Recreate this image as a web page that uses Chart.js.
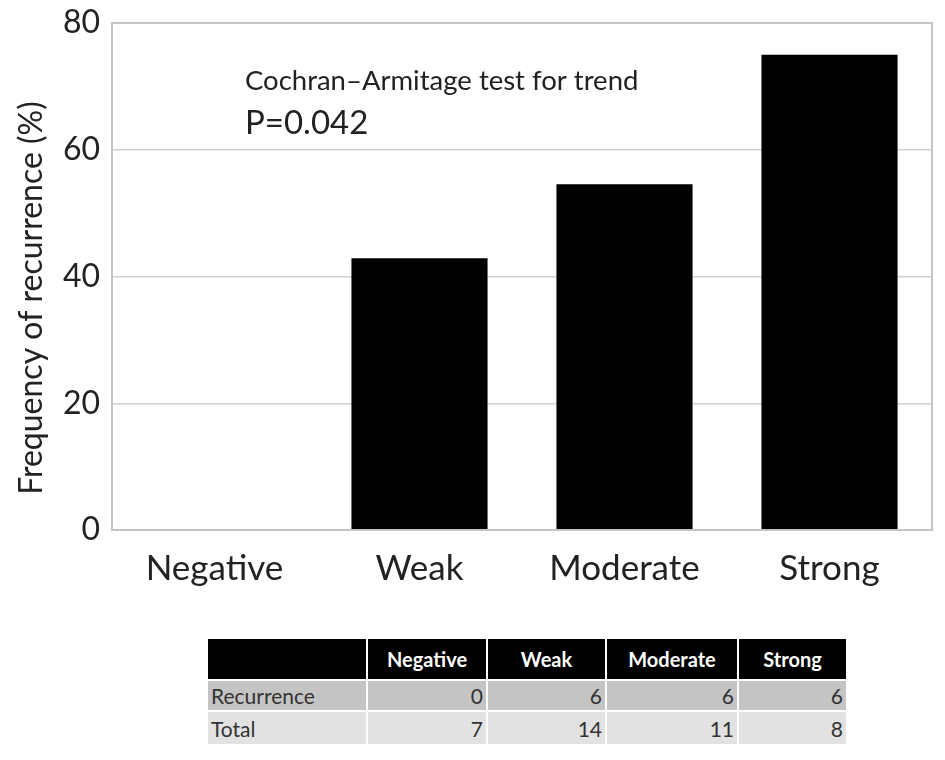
<!DOCTYPE html>
<html>
<head>
<meta charset="utf-8">
<script src="https://cdn.jsdelivr.net/npm/chart.js@4.4.0/dist/chart.umd.min.js"></script>
<style>
    body { margin: 0; background: #fff; font-family: Lato, "Open Sans", sans-serif; }
    #wrap { position: relative; width: 945px; height: 760px; }
    #chartBox { position: absolute; left: 0; top: 0; width: 945px; height: 610px; }
    table.counts {
        position: absolute; left: 206px; top: 637px; width: 640px;
        table-layout: fixed; border-collapse: collapse; font-size: 21px; color: #333;
    }
    table.counts td, table.counts th { border: 2px solid #fff; padding: 0 3px; overflow: hidden; white-space: nowrap; }
    table.counts th { background: #000; color: #fff; height: 40px; font-weight: bold; text-align: center; font-size: 20px; }
    table.counts tr.rec td { background: #c4c4c4; height: 29px; }
    table.counts tr.tot td { background: #e2e2e2; height: 32px; }
    table.counts td.num { text-align: right; }
</style>
</head>
<body>
<div id="wrap">
    <div id="chartBox"><canvas id="chart"></canvas></div>
    <table class="counts" id="counts"></table>
</div>
<script>
// Data
const categories = ['Negative', 'Weak', 'Moderate', 'Strong'];
const recurrence = [0, 6, 6, 6];
const totals = [7, 14, 11, 8];
const frequency = [0, 42.86, 54.55, 75.0];
const yTicks = [0, 20, 40, 60, 80];

// Table below the chart
const table = document.getElementById('counts');
const colWidths = [160, 120, 119, 132, 109];
table.innerHTML =
    `<colgroup>${colWidths.map(w => `<col style="width:${w}px">`).join('')}</colgroup>` +
    `<tr><th></th>${categories.map(c => `<th>${c}</th>`).join('')}</tr>` +
    `<tr class="rec"><td>Recurrence</td>${recurrence.map(v => `<td class="num">${v}</td>`).join('')}</tr>` +
    `<tr class="tot"><td>Total</td>${totals.map(v => `<td class="num">${v}</td>`).join('')}</tr>`;

const FONT = 'Lato, "Open Sans", sans-serif';

// Annotation, y title + frame around plot area
const extras = {
    id: 'extras',
    afterDraw(chart) {
        const { ctx, chartArea: a } = chart;
        ctx.save();
        ctx.strokeStyle = '#c4c4c4';
        ctx.lineWidth = 2;
        ctx.strokeRect(a.left, a.top, a.right - a.left, a.bottom - a.top);
        ctx.fillStyle = '#222';
        ctx.textBaseline = 'alphabetic';
        ctx.font = '27.5px ' + FONT;
        ctx.fillText('Cochran\u2013Armitage test for trend', 245, 90);
        ctx.font = '33px ' + FONT;
        ctx.fillText('P=0.042', 245, 134);

        ctx.translate(42, 298);
        ctx.rotate(-Math.PI / 2);
        ctx.textAlign = 'center';
        ctx.font = '32px ' + FONT;
        ctx.fillText('Frequency of recurrence (%)', 0, 0);
        ctx.restore();
    }
};

new Chart(document.getElementById('chart'), {
    type: 'bar',
    data: {
        labels: categories,
        datasets: [{
            data: frequency,
            backgroundColor: '#000',
            borderWidth: 0,
            categoryPercentage: 0.664,
            barPercentage: 1.0
        }]
    },
    options: {
        responsive: true,
        maintainAspectRatio: false,
        animation: false,
        layout: { padding: { top: 23, right: 13, left: 0, bottom: 0 } },
        plugins: { legend: { display: false }, tooltip: { enabled: false } },
        scales: {
            x: {
                grid: { display: false },
                border: { display: false },
                ticks: { color: '#222', font: { size: 35, family: FONT }, padding: 10 },
                afterFit(scale) { scale.height = 80; scale.paddingLeft = 0; scale.paddingRight = 0; }
            },
            y: {
                min: 0, max: 80,
                afterBuildTicks(scale) { scale.ticks = yTicks.map(v => ({ value: v })); },
                grid: { color: '#d0d0d0', lineWidth: 1.5, drawTicks: false },
                border: { display: false },
                ticks: { color: '#222', font: { size: 32, family: FONT }, padding: 12 },
                afterFit(scale) { scale.width = 112; scale.paddingTop = 0; scale.paddingBottom = 0; }
            }
        }
    },
    plugins: [extras]
});
</script>
</body>
</html>
